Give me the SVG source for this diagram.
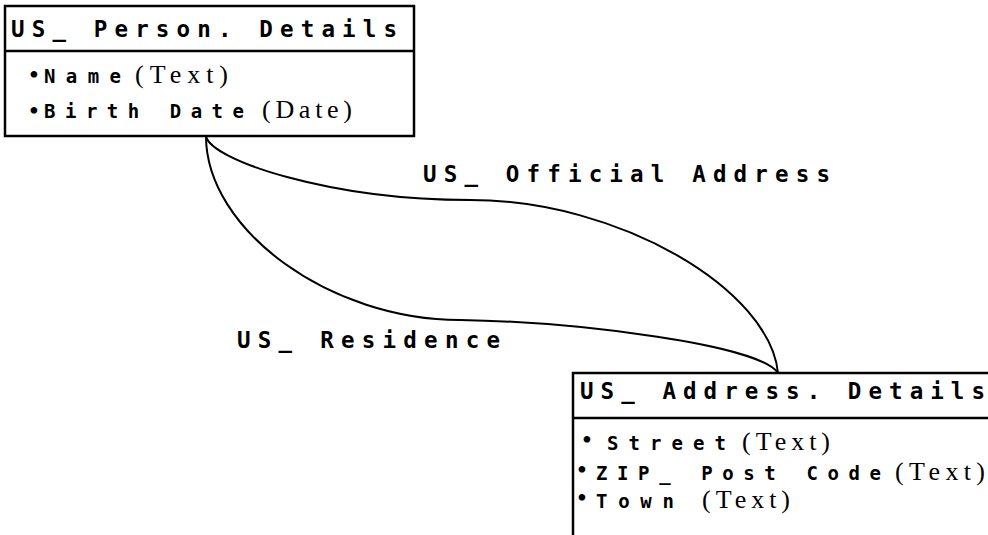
<svg xmlns="http://www.w3.org/2000/svg" width="988" height="535" viewBox="0 0 988 535">
<style>
.box{fill:#fff;stroke:#000;stroke-width:2.5}
.sep{stroke:#000;stroke-width:2.5}
.conn{fill:none;stroke:#000;stroke-width:2}
.mono{font-family:"DejaVu Sans Mono","Liberation Mono",monospace;font-weight:bold;fill:#000}
.t{font-size:22.5px}
.a{font-size:19px}
.serif{font-family:"Liberation Serif","Times New Roman",serif;font-size:26px;fill:#000}
.bul{font-family:"Liberation Serif","Times New Roman",serif;font-size:28px;fill:#000}
</style>
<rect width="988" height="535" fill="#fff"/>
<g id="connectors">
<path id="official" class="conn" d="M206,136 C210,160 330,200 470,200 C620,200 770,290 778,373"/>
<path id="residence" class="conn" d="M206,136 C206,230 330,320 460,320 C580,322 760,345 778,373"/>
<text class="mono t" x="423" y="182" textLength="407" lengthAdjust="spacing">US_ Official Address</text>
<text class="mono t" x="237" y="348" textLength="263" lengthAdjust="spacing">US_ Residence</text>
</g>
<g id="person">
<rect class="box" x="5" y="6" width="409" height="130"/>
<line class="sep" x1="5" y1="51" x2="414" y2="51"/>
<text class="mono t" x="11" y="37" textLength="386" lengthAdjust="spacing">US_ Person. Details</text>
<text class="bul" x="29" y="84">•</text>
<text class="mono a" x="44" y="83" textLength="77" lengthAdjust="spacing">Name</text>
<text class="serif" x="135" y="83" textLength="93" lengthAdjust="spacing">(Text)</text>
<text class="bul" x="29" y="119.5">•</text>
<text class="mono a" x="44" y="118" textLength="200" lengthAdjust="spacing">Birth Date</text>
<text class="serif" x="262" y="118" textLength="90" lengthAdjust="spacing">(Date)</text>
</g>
<g id="address">
<rect class="box" x="573" y="373" width="430" height="200"/>
<line class="sep" x1="573" y1="418" x2="990" y2="418"/>
<text class="mono t" x="580" y="399" textLength="405" lengthAdjust="spacing">US_ Address. Details</text>
<text class="bul" x="582" y="449">•</text>
<text class="mono a" x="607" y="450" textLength="119" lengthAdjust="spacing">Street</text>
<text class="serif" x="742" y="450" textLength="88" lengthAdjust="spacing">(Text)</text>
<text class="bul" x="577" y="479">•</text>
<text class="mono a" x="596" y="480" textLength="285" lengthAdjust="spacing">ZIP_ Post Code</text>
<text class="serif" x="895" y="480" textLength="90" lengthAdjust="spacing">(Text)</text>
<text class="bul" x="577" y="507">•</text>
<text class="mono a" x="596" y="508" textLength="78" lengthAdjust="spacing">Town</text>
<text class="serif" x="702" y="508" textLength="88" lengthAdjust="spacing">(Text)</text>
</g>
</svg>
